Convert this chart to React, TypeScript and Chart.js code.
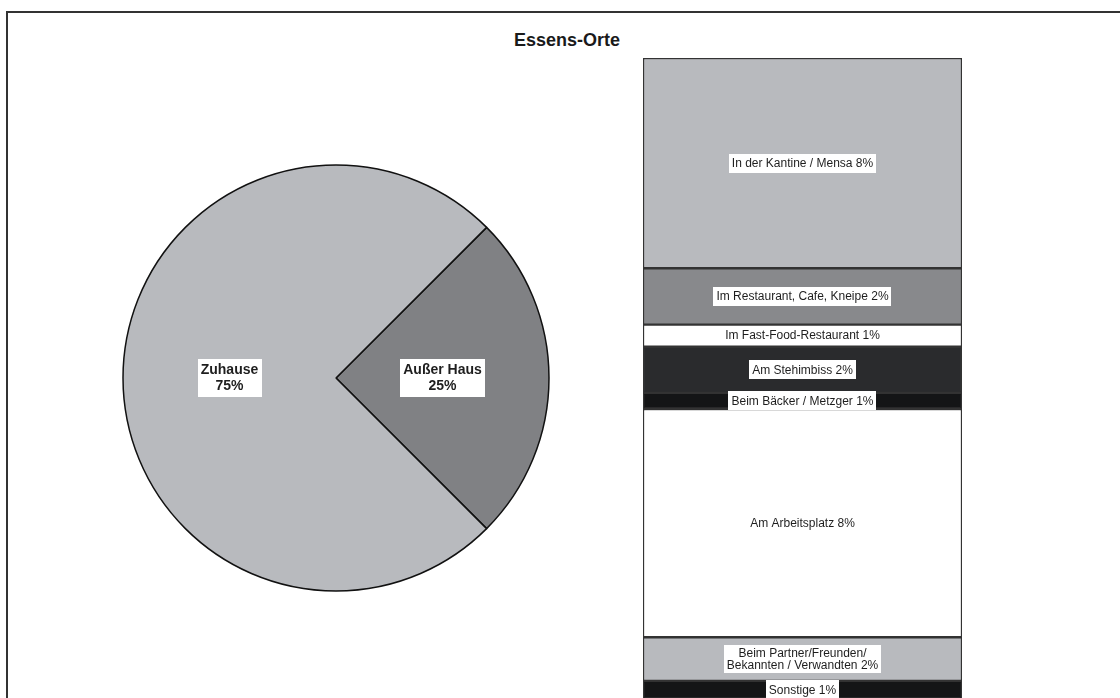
import React, { useEffect, useRef } from "react";
import { Chart, registerables } from "chart.js";

Chart.register(...registerables);

const TITLE = "Essens-Orte";

// Pie
const pieLabels = ["Außer Haus", "Zuhause"];
const pieValues = [25, 75];
const pieColors = ["#808184", "#b8babe"];

// Stacked bar (breakdown of "Außer Haus")
const barLabels = [
  ["In der Kantine / Mensa 8%"],
  ["Im Restaurant, Cafe, Kneipe 2%"],
  ["Im Fast-Food-Restaurant 1%"],
  ["Am Stehimbiss 2%"],
  ["Beim Bäcker / Metzger 1%"],
  ["Am Arbeitsplatz 8%"],
  ["Beim Partner/Freunden/", "Bekannten / Verwandten 2%"],
  ["Sonstige 1%"],
];
const barValues = [8.2, 2.2, 0.86, 1.8, 0.63, 8.9, 1.7, 0.71];
const barColors = [
  "#b8babe",
  "#88898c",
  "#ffffff",
  "#2a2b2d",
  "#141516",
  "#ffffff",
  "#b8babe",
  "#141516",
];

const FONT = "'Liberation Sans', Arial, Helvetica, sans-serif";

function drawBox(ctx: CanvasRenderingContext2D, lines: string[], cx: number, cy: number, font: string, lh: number, padX: number, padY: number) {
  ctx.save();
  ctx.font = font;
  let w = 0;
  for (const l of lines) w = Math.max(w, ctx.measureText(l).width);
  const h = lines.length * lh;
  ctx.fillStyle = "#ffffff";
  ctx.fillRect(Math.round(cx - w / 2 - padX), Math.round(cy - h / 2 - padY), Math.round(w + 2 * padX), Math.round(h + 2 * padY));
  ctx.fillStyle = "#1e1e1e";
  ctx.textAlign = "center";
  ctx.textBaseline = "middle";
  lines.forEach((l, i) => {
    ctx.fillText(l, cx, cy - h / 2 + lh * i + lh / 2 + 0.5);
  });
  ctx.restore();
}

const pieLabelPlugin = {
  id: "pieLabelPlugin",
  afterDatasetsDraw(chart: any) {
    const ctx = chart.ctx;
    const meta = chart.getDatasetMeta(0);
    meta.data.forEach((arc: any, i: number) => {
      const p = arc.tooltipPosition();
      drawBox(ctx, [pieLabels[i], pieValues[i] + "%"], p.x, p.y, `bold 14px ${FONT}`, 16, 3, 3);
    });
  },
};

const barLabelPlugin = {
  id: "barLabelPlugin",
  afterDatasetsDraw(chart: any) {
    const ctx = chart.ctx;
    chart.data.datasets.forEach((ds: any, i: number) => {
      const el = chart.getDatasetMeta(i).data[0];
      if (!el) return;
      const cy = (el.y + el.base) / 2;
      const lines = barLabels[i];
      drawBox(ctx, lines, el.x, cy, `12px ${FONT}`, lines.length > 1 ? 12.5 : 13, 3, lines.length > 1 ? 1.5 : 3);
    });
  },
};

export default function App() {
  const pieRef = useRef<HTMLCanvasElement>(null);
  const barRef = useRef<HTMLCanvasElement>(null);

  useEffect(() => {
    const pie = new Chart(pieRef.current!, {
      type: "pie",
      data: {
        labels: pieLabels,
        datasets: [
          {
            data: pieValues,
            backgroundColor: pieColors,
            borderColor: "#111111",
            borderWidth: 1.5,
            radius: 213,
          } as any,
        ],
      },
      options: {
        animation: false,
        responsive: false,
        maintainAspectRatio: false,
        rotation: 45,
        layout: { padding: 0 },
        plugins: { legend: { display: false }, tooltip: { enabled: false }, title: { display: false } },
      },
      plugins: [pieLabelPlugin],
    });

    const bar = new Chart(barRef.current!, {
      type: "bar",
      data: {
        labels: ["Außer Haus"],
        datasets: barLabels.map((l, i) => ({
          label: l.join(" "),
          data: [barValues[i]],
          backgroundColor: barColors[i],
          borderColor: "#333333",
          borderWidth: 1.5,
          borderSkipped: false,
          barPercentage: 1,
          categoryPercentage: 1,
        })),
      },
      options: {
        animation: false,
        responsive: false,
        maintainAspectRatio: false,
        layout: { padding: 0 },
        scales: {
          x: { stacked: true, display: false },
          y: { stacked: true, display: false, reverse: true, min: 0, max: 25 },
        },
        plugins: { legend: { display: false }, tooltip: { enabled: false }, title: { display: false } },
      },
      plugins: [barLabelPlugin],
    });

    return () => {
      pie.destroy();
      bar.destroy();
    };
  }, []);

  return (
    <div style={{ position: "absolute", left: 0, top: 0, width: 1120, height: 698, overflow: "hidden", background: "#ffffff" }}>
      <div
        style={{
          position: "absolute",
          left: 6,
          top: 11,
          width: 1200,
          height: 800,
          border: "2px solid #333333",
          boxSizing: "border-box",
        }}
      />
      <div
        style={{
          position: "absolute",
          left: 0,
          top: 29,
          width: 1134,
          textAlign: "center",
          font: `bold 18px ${FONT}`,
          lineHeight: "22px",
          color: "#1a1a1a",
        }}
      >
        {TITLE}
      </div>
      <canvas ref={pieRef} width={480} height={480} style={{ position: "absolute", left: 96, top: 138, width: 480, height: 480 }} />
      <canvas ref={barRef} width={319} height={641} style={{ position: "absolute", left: 643, top: 58, width: 319, height: 641 }} />
    </div>
  );
}
